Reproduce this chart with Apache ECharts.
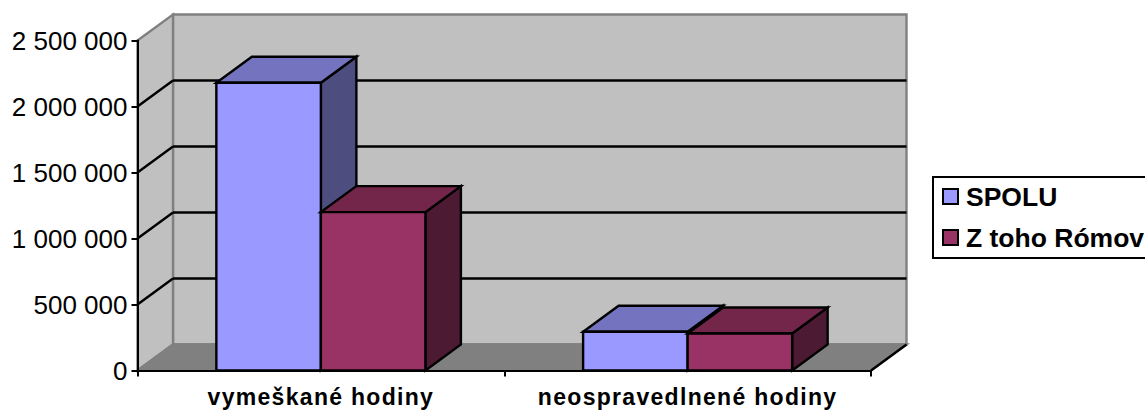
<!DOCTYPE html>
<html><head><meta charset="utf-8">
<style>html,body{margin:0;padding:0;background:#fff;overflow:hidden}#c{width:1145px;height:410px}
svg text[style*="23px"]{letter-spacing:1.3px}</style>
<script src="https://cdn.jsdelivr.net/npm/echarts@6/dist/echarts.min.js"></script>
</head><body><div id="c"></div>
<script>
const categories = ['vymeškané hodiny', 'neospravedlnené hodiny'];
const seriesNames = ['SPOLU', 'Z toho Rómov'];
const spolu = [2180000, 294000];
const zTohoRomov = [1200000, 280000];
const yTicks = [0, 500000, 1000000, 1500000, 2000000, 2500000];
const frontColors = ['#9999FF', '#993366'];
const topColors = ['#7373BF', '#732649'];
const sideColors = ['#4D4D80', '#4D1A33'];
const DX = 35.5, DY = -26, BAR = 0.285, LW = 2.4;
const FONT = '"Liberation Sans", Arial, sans-serif';

function poly(points, fill, stroke, width) {
  return { type: 'polygon', shape: { points }, style: { fill, stroke: stroke || null, lineWidth: width || 0, lineJoin: 'miter' } };
}
function seg(x1, y1, x2, y2, stroke) {
  return { type: 'line', shape: { x1, y1, x2, y2 }, style: { stroke, lineWidth: LW, fill: null } };
}
function renderBackdrop(params, api) {
  const c = params.coordSys, l = c.x, r = c.x + c.width, t = c.y, b = c.y + c.height;
  const kids = [];
  const value = api.value(0);
  const y = api.coord([0, value])[1];
  if (params.dataIndex === 0) {
    kids.push(poly([[l + DX, t + DY], [r + DX, t + DY], [r + DX, b + DY], [l + DX, b + DY]], '#C0C0C0', '#808080', LW));
    kids.push(poly([[l, t], [l + DX, t + DY], [l + DX, b + DY], [l, b]], '#C0C0C0', '#808080', LW));
    kids.push(poly([[l, b], [l + DX, b + DY], [r + DX, b + DY], [r, b]], '#808080', '#808080', LW));
    kids.push(seg(r, b, r + DX, b + DY, '#000'));
  } else if (value < yTicks[yTicks.length - 1]) {
    kids.push(seg(l, y, l + DX, y + DY, '#000'));
    kids.push(seg(l + DX, y + DY, r + DX, y + DY, '#000'));
  }
  return { type: 'group', children: kids };
}
function barRenderer(s) {
  return function (params, api) {
    const p = api.coord([api.value(0), api.value(1)]);
    const p0 = api.coord([api.value(0), 0]);
    const w = api.size([1, 0])[0] * BAR;
    const x0 = s === 0 ? p[0] - w : p[0], x1 = x0 + w, yT = p[1], yB = p0[1];
    return { type: 'group', children: [
      poly([[x1, yB], [x1 + DX, yB + DY], [x1 + DX, yT + DY], [x1, yT]], sideColors[s], '#000', LW),
      poly([[x0, yT], [x1, yT], [x1 + DX, yT + DY], [x0 + DX, yT + DY]], topColors[s], '#000', LW),
      poly([[x0, yB], [x1, yB], [x1, yT], [x0, yT]], frontColors[s], '#000', LW)
    ] };
  };
}
const chart = echarts.init(document.getElementById('c'), null, { renderer: 'svg' });
chart.setOption({
  animation: false,
  backgroundColor: '#fff',
  grid: { left: 137.5, right: 274, top: 40.5, bottom: 39.5 },
  legend: {
    orient: 'vertical', left: 933, top: 177, padding: [6, 40, 7, 9], itemGap: 14,
    itemWidth: 15, itemHeight: 15, borderColor: '#000', borderWidth: 2, backgroundColor: '#fff',
    textStyle: { fontFamily: FONT, fontSize: 26.5, fontWeight: 'bold', color: '#000', padding: [0, 0, 0, 3] },
    data: seriesNames.map((name, i) => ({ name, icon: 'rect', itemStyle: { color: frontColors[i], borderColor: '#000', borderWidth: 2 } }))
  },
  xAxis: {
    type: 'category', data: categories, z: 10,
    axisLine: { lineStyle: { color: '#000', width: 2 } },
    axisTick: { show: true, alignWithLabel: false, length: 6, lineStyle: { color: '#000', width: 2 } },
    axisLabel: { fontFamily: FONT, fontSize: 23, fontWeight: 'bold', color: '#000', margin: 15, interval: 0 }
  },
  yAxis: {
    type: 'value', min: 0, max: 2500000, interval: 500000, z: 10,
    splitLine: { show: false },
    axisLine: { show: true, lineStyle: { color: '#000', width: 2 } },
    axisTick: { show: true, length: 6, lineStyle: { color: '#000', width: 2 } },
    axisLabel: { fontFamily: FONT, fontSize: 26, color: '#000', margin: 10,
      formatter: v => String(v).replace(/\B(?=(\d{3})+$)/g, ' ') }
  },
  series: [
    { type: 'custom', name: 'backdrop', z: 1, clip: false, silent: true, renderItem: renderBackdrop, data: yTicks.map(v => [v]), encode: { y: 0 } },
    { type: 'custom', name: seriesNames[0], z: 2, clip: false, renderItem: barRenderer(0), itemStyle: { color: frontColors[0] },
      data: spolu.map((v, i) => [i, v]), encode: { x: 0, y: 1 } },
    { type: 'custom', name: seriesNames[1], z: 3, clip: false, renderItem: barRenderer(1), itemStyle: { color: frontColors[1] },
      data: zTohoRomov.map((v, i) => [i, v]), encode: { x: 0, y: 1 } }
  ]
});
</script></body></html>
